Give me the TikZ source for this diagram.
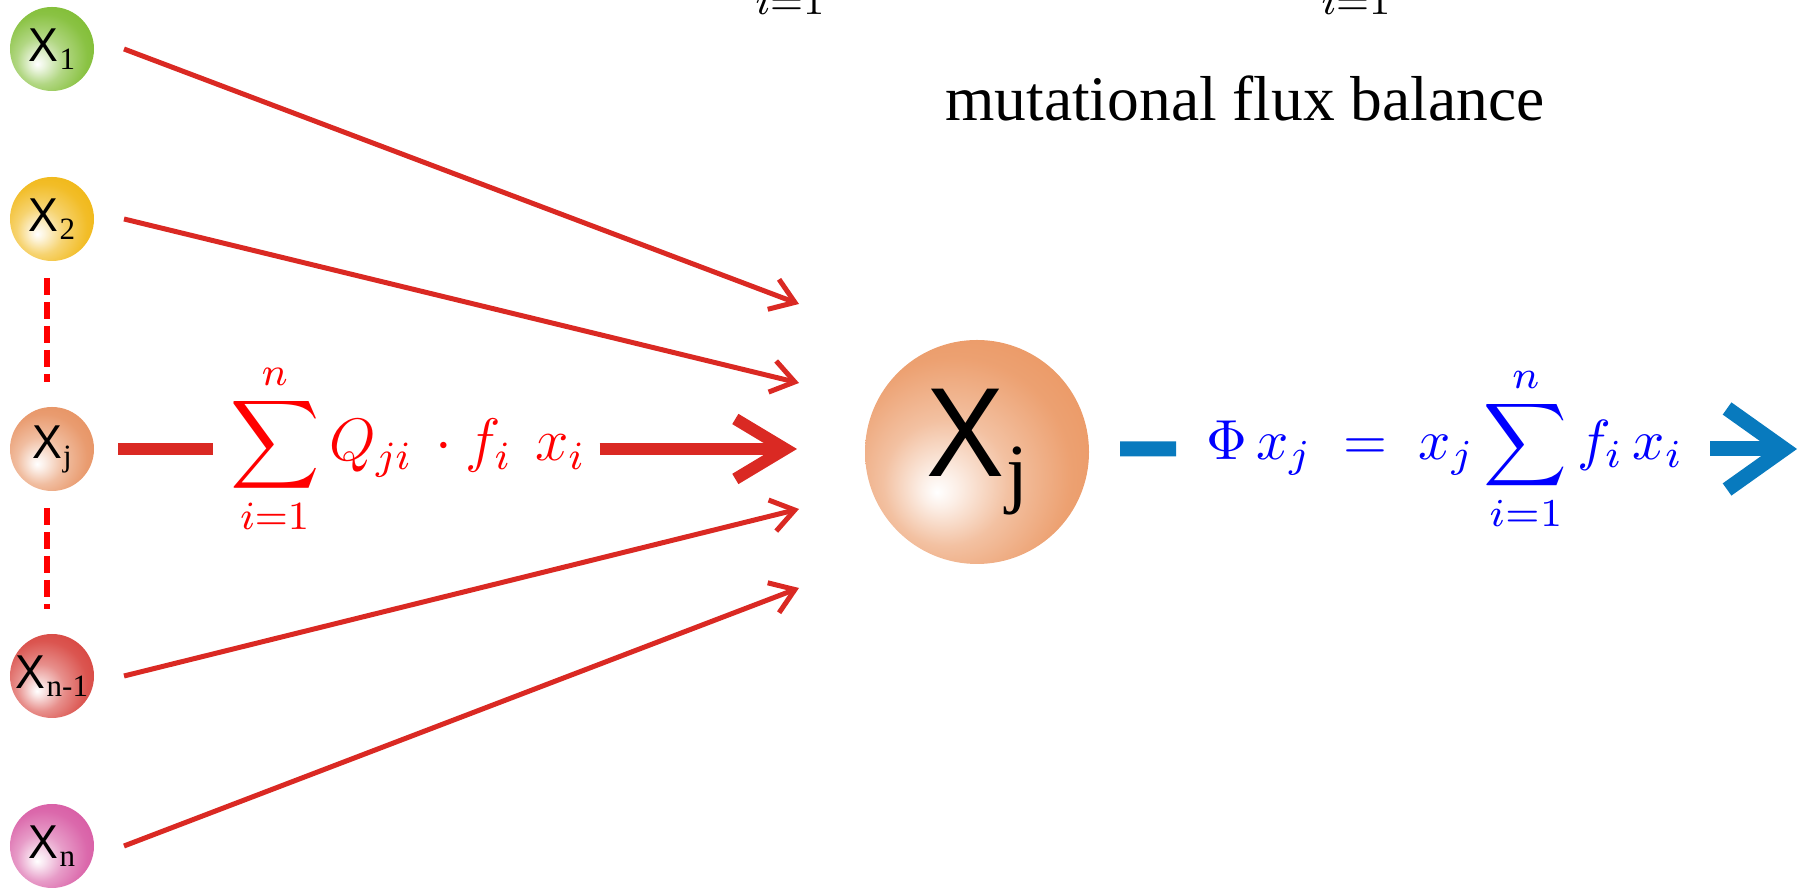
\RequirePackage{fix-cm}
\documentclass[tikz,border=0pt]{standalone}
\usepackage{graphicx}
\usepackage{fontspec}
\newfontfamily\arialf{Liberation Sans}
\newfontfamily\timesf{Liberation Serif}
\usetikzlibrary{arrows.meta}
\definecolor{arrred}{RGB}{218,41,35}
\definecolor{barblue}{RGB}{8,122,190}
\definecolor{cgreen}{RGB}{122,186,42}
\definecolor{cyellow}{RGB}{240,180,10}
\definecolor{corange}{RGB}{230,142,92}
\definecolor{cred}{RGB}{214,62,56}
\definecolor{cpink}{RGB}{214,84,160}
\definecolor{cpeach}{RGB}{234,148,94}
\colorlet{ballc}{cgreen}
\pgfdeclareradialshading[ballc]{sphere}{\pgfqpoint{-9bp}{-9bp}}{color(0bp)=(white); color(4bp)=(ballc!15!white); color(14bp)=(ballc!58!white); color(26bp)=(ballc!88!white); color(38bp)=(ballc); color(60bp)=(ballc)}
\newcommand\smX[1]{{\arialf\fontsize{9.5}{10}\selectfont\scalebox{0.94}[1]{X}}\kern0.2pt\raisebox{-1.6pt}{\timesf\fontsize{6.2}{7}\selectfont #1}}
\newcommand\bigX[1]{{\arialf\fontsize{25.4}{27}\selectfont\scalebox{0.92}[1]{X}}\kern0.4pt\raisebox{-4.4pt}{\timesf\fontsize{15.6}{17}\selectfont #1}}
\newcommand\bigsum[1]{\mathop{\vcenter{\hbox{\scalebox{#1}{$\displaystyle\sum$}}}}\limits}
\tikzset{
  ball/.style={circle, inner sep=0pt, minimum size=16.8pt, /utils/exec={\colorlet{ballc}{#1}}, shading=sphere},
  thinarr/.style={draw=arrred, line width=1pt, -{Straight Barb[length=4.6pt, width=6.4pt]}},
  redthick/.style={draw=arrred, line width=2.4pt},
  bluethick/.style={draw=barblue, line width=3pt},
  dashline/.style={draw=red, line width=1.2pt, dash pattern=on 3.5pt off 1.3pt},
}
\begin{document}
\begin{tikzpicture}[x=0.2pt, y=-0.2pt]
\useasboundingbox (0,0) rectangle (1812,888);
% top cut-off limits
\node[anchor=base, inner sep=0pt] (top1) at (790,15) {\fontsize{12}{14}\selectfont$\scriptstyle i=1$};
\node[anchor=base, inner sep=0pt] (top2) at (1356,15) {\fontsize{12}{14}\selectfont$\scriptstyle i=1$};
% title
\node[anchor=base, inner sep=0pt] (title) at (1245,121) {\timesf\fontsize{12.7}{15}\selectfont mutational flux balance};
% small nodes
\node[ball=cgreen] (x1) at (52,49) {\smX{1}};
\node[ball=cyellow] (x2) at (52,219) {\smX{2}};
\node[ball=corange] (x3) at (52,449) {\smX{j}};
\node[ball=cred] (x4) at (52,676) {\smX{n-1}};
\node[ball=cpink] (x5) at (52,846) {\smX{n}};
% central node
\node[ball=cpeach, minimum size=44.8pt] (XJ) at (977,452) {\bigX{j}};
% tips
\coordinate (t1) at (799,304);
\coordinate (t2) at (799,383);
\coordinate (t3) at (797,449);
\coordinate (t4) at (799,509);
\coordinate (t5) at (799,588);
\coordinate (b4) at (1797,449);
% dashed
\draw[dashline] ([xshift=-1pt,yshift=-3.2pt]x2.south) -- ([xshift=-1pt,yshift=4.8pt]x3.north);
\draw[dashline] ([xshift=-1pt,yshift=-3.2pt]x3.south) -- ([xshift=-1pt,yshift=4.8pt]x4.north);
% thin arrows
\draw[thinarr] ([xshift=5.8pt]x1.east) -- (t1);
\draw[thinarr] ([xshift=5.8pt]x2.east) -- (t2);
\draw[thinarr] ([xshift=5.8pt]x4.east) -- (t4);
\draw[thinarr] ([xshift=5.8pt]x5.east) -- (t5);
% red formula
\node[anchor=west, inner sep=0pt, text=red] (RF) at (229,449) {\fontsize{12}{14}\selectfont$\displaystyle\bigsum{1.24}_{i=1}^{n} Q_{ji}\mkern3mu\cdot f_i\mkern7mu x_i$};
\draw[redthick] ([xshift=4.6pt]x3.east) -- ([xshift=-3.2pt]RF.west);
\draw[redthick, -{Straight Barb[length=10pt, width=12pt]}] ([xshift=2.6pt]RF.east) -- (t3);
% blue formula
\node[anchor=west, inner sep=0pt, text=blue] (BF) at (1205,449) {\fontsize{11.3}{13}\selectfont$\displaystyle\Phi\, x_j \;=\; x_j\bigsum{1.16}_{i=1}^{n} f_i\, x_i$};
\draw[bluethick] ([xshift=6pt,yshift=0.6pt]XJ.east) -- ([xshift=-5.8pt]BF.west);
\draw[bluethick, -{Straight Barb[length=11.4pt, width=16.2pt]}] ([xshift=5.2pt]BF.east) -- (b4);
\end{tikzpicture}
\end{document}
